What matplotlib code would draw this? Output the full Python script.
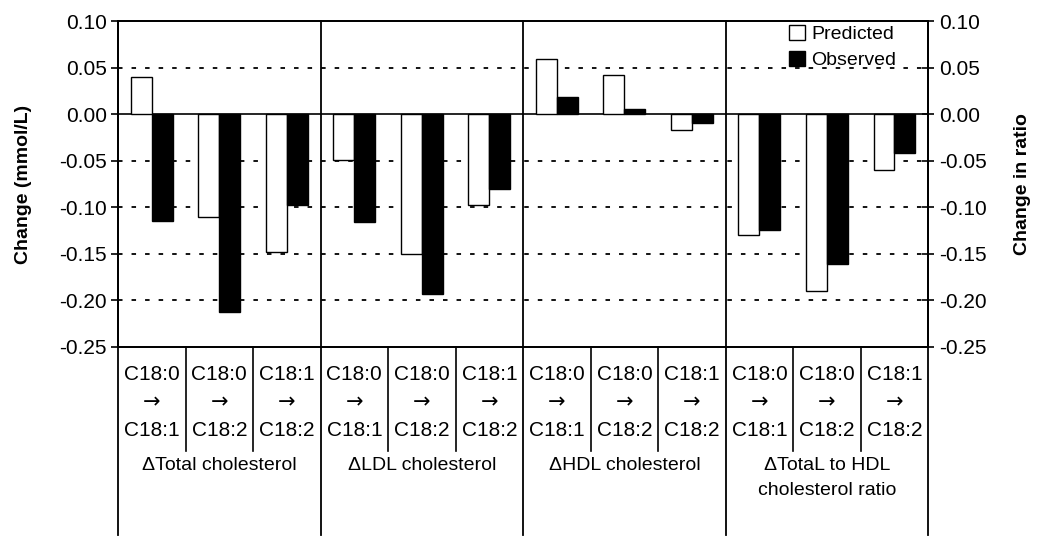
import numpy as np
import matplotlib
matplotlib.use("Agg")
import matplotlib.pyplot as plt
from matplotlib.patches import Patch

plt.rcParams['font.family'] = ['Liberation Sans', 'DejaVu Sans']

sub_from = ["C18:0", "C18:0", "C18:1"] * 4
sub_to = ["C18:1", "C18:2", "C18:2"] * 4
groups = ["\u0394Total cholesterol", "\u0394LDL cholesterol", "\u0394HDL cholesterol",
          "\u0394TotaL to HDL\ncholesterol ratio"]
predicted = [0.04, -0.11, -0.148, -0.049, -0.15, -0.098, 0.059, 0.042, -0.017, -0.13, -0.19, -0.06]
observed = [-0.115, -0.213, -0.098, -0.116, -0.193, -0.08, 0.018, 0.006, -0.01, -0.125, -0.161, -0.042]
yticks = [-0.25, -0.20, -0.15, -0.10, -0.05, 0.00, 0.05, 0.10]

fig = plt.figure(figsize=(10.4, 5.41), dpi=100)
ax = fig.add_axes([0.1135, 0.359, 0.779, 0.602])
ax2 = ax.twinx()

x = np.arange(len(sub_from))
w = 0.31
left = x < 9
# mmol/L groups on left axis, ratio group on right axis
ax.bar(x[left] - w / 2, np.array(predicted)[left], w, color="white", edgecolor="black", lw=1, zorder=3)
ax.bar(x[left] + w / 2, np.array(observed)[left], w, color="black", edgecolor="black", lw=1, zorder=3)
ax2.bar(x[~left] - w / 2, np.array(predicted)[~left], w, color="white", edgecolor="black", lw=1, zorder=3)
ax2.bar(x[~left] + w / 2, np.array(observed)[~left], w, color="black", edgecolor="black", lw=1, zorder=3)

for a in (ax, ax2):
    a.set_ylim(-0.25, 0.10)
    a.set_yticks(yticks)
    a.set_yticklabels([f"{v:.2f}" for v in yticks], fontsize=15)
    a.set_xlim(-0.5, 11.5)
    for s in a.spines.values():
        s.set_linewidth(1.3)

for v in [0.05, -0.05, -0.10, -0.15, -0.20]:
    ax.axhline(v, color="black", lw=1.3, ls=(0, (2.5, 5)), zorder=1)
ax.axhline(0, color="black", lw=1.2, zorder=2)

ax.set_xticks([])
ax.tick_params(axis="y", direction="out", length=5, width=1.2, pad=3)
ax2.tick_params(axis="y", direction="inout", length=8, width=1.2, pad=4)

ax.set_ylabel("Change (mmol/L)", fontsize=14, fontweight="bold")
ax2.set_ylabel("Change in ratio", fontsize=14, fontweight="bold", rotation=90)
ax.yaxis.set_label_coords(-0.106, 0.5)
ax2.yaxis.set_label_coords(1.106, 0.5)

tr = ax.get_xaxis_transform()
for gx in [-0.5, 2.5, 5.5, 8.5, 11.5]:
    ax.plot([gx, gx], [1, -0.577], color="black", lw=1.3, transform=tr, clip_on=False, zorder=4)
for sx in [0.5, 1.5, 3.5, 4.5, 6.5, 7.5, 9.5, 10.5]:
    ax.plot([sx, sx], [0, -0.32], color="black", lw=1.2, transform=tr, clip_on=False)

for i in x:
    ax.text(i, -0.085, sub_from[i], transform=tr, ha="center", va="center", fontsize=15)
    ax.text(i, -0.170, "\u2192", transform=tr, ha="center", va="center", fontsize=15,
            family="DejaVu Sans")
    ax.text(i, -0.258, sub_to[i], transform=tr, ha="center", va="center", fontsize=15)
for g, lab in enumerate(groups):
    ax.text(3 * g + 1, -0.338, lab, transform=tr, ha="center", va="top", fontsize=14, linespacing=1.6)

handles = [Patch(facecolor="white", edgecolor="black"), Patch(facecolor="black", edgecolor="black")]
ax.legend(handles, ["Predicted", "Observed"], loc="upper right", bbox_to_anchor=(0.975, 1.025),
          frameon=False, fontsize=14, handlelength=0.85, handleheight=0.85, handletextpad=0.3,
          labelspacing=0.4, borderaxespad=0.2)

fig.savefig("out.png", dpi=100)
